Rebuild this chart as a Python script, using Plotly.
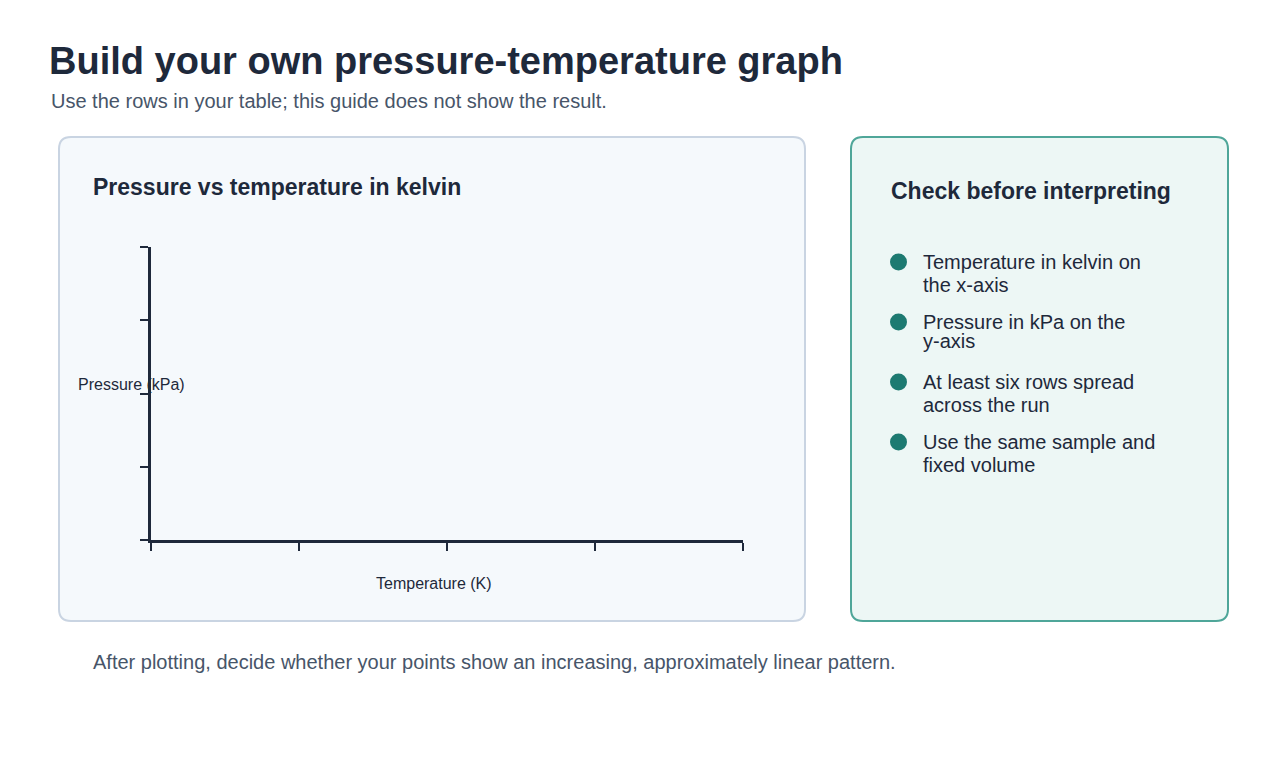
import plotly.graph_objects as go

W, H = 1280, 760
OFF = 8  # page body margin around the plot div

# chart content (the guide deliberately shows no measured points)
temperature_k = []
pressure_kpa = []
x_tick_vals = [0, 1, 2, 3, 4]
y_tick_vals = [0, 1, 2, 3, 4]

title = "Build your own pressure-temperature graph"
subtitle = "Use the rows in your table; this guide does not show the result."
chart_title = "Pressure vs temperature in kelvin"
x_title = "Temperature (K)"
y_title = "Pressure (kPa)"
check_title = "Check before interpreting"
check_items = [
    ["Temperature in kelvin on", "the x-axis"],
    ["Pressure in kPa on the", "y-axis"],
    ["At least six rows spread", "across the run"],
    ["Use the same sample and", "fixed volume"],
]
footer = "After plotting, decide whether your points show an increasing, approximately linear pattern."

FONT = "Liberation Sans, Arial, sans-serif"
DARK = "#1e293b"
GREY = "#475569"
TEAL = "#1d7a71"


def px(x):
    return (x - OFF) / W


def py(y):
    return 1 - (y - OFF) / H


def rounded_rect(x0, y0, x1, y1, r):
    # path in paper units built from pixel positions
    rx, ry = r / W, r / H
    a, b, c, d = px(x0), py(y0), px(x1), py(y1)
    return (f"M {a + rx},{b} L {c - rx},{b} Q {c},{b} {c},{b - ry} "
            f"L {c},{d + ry} Q {c},{d} {c - rx},{d} "
            f"L {a + rx},{d} Q {a},{d} {a},{d + ry} "
            f"L {a},{b - ry} Q {a},{b} {a + rx},{b} Z")


fig = go.Figure()
fig.add_trace(go.Scatter(x=temperature_k, y=pressure_kpa, mode="markers",
                         marker=dict(color=TEAL), showlegend=False))

shapes = [
    dict(type="path", xref="paper", yref="paper", layer="below",
         path=rounded_rect(59, 137, 805, 621, 12),
         fillcolor="#f5f9fc", line=dict(color="#c9d4e2", width=2)),
    dict(type="path", xref="paper", yref="paper", layer="below",
         path=rounded_rect(851, 137, 1228, 621, 12),
         fillcolor="#edf7f5", line=dict(color="#4fa699", width=2)),
]

annotations = [
    dict(text=f"<b>{title}</b>", x=px(47), y=py(61), font=dict(size=38, color=DARK)),
    dict(text=subtitle, x=px(49), y=py(101), font=dict(size=20, color=GREY)),
    dict(text=f"<b>{chart_title}</b>", x=px(91), y=py(187), font=dict(size=23, color=DARK)),
    dict(text=f"<b>{check_title}</b>", x=px(889), y=py(191), font=dict(size=23, color=DARK)),
    dict(text=y_title, x=px(131), y=py(384), xanchor="center", font=dict(size=16, color=DARK)),
    dict(text=x_title, x=px(434), y=py(583), xanchor="center", font=dict(size=16, color=DARK)),
    dict(text=footer, x=px(91), y=py(662), font=dict(size=20, color=GREY)),
]

item_lines = [(262, 285), (322, 341), (382, 405), (442, 465)]
for (first, second), (y1, y2) in zip(check_items, item_lines):
    shapes.append(dict(type="circle", xref="paper", yref="paper",
                       x0=px(890), x1=px(907), y0=py(y1 - 8.5), y1=py(y1 + 8.5),
                       fillcolor=TEAL, line=dict(width=0)))
    annotations.append(dict(text=first, x=px(921), y=py(y1), font=dict(size=20, color=DARK)))
    annotations.append(dict(text=second, x=px(921), y=py(y2), font=dict(size=20, color=DARK)))

for a in annotations:
    a.update(xref="paper", yref="paper", showarrow=False, yanchor="middle")
    a.setdefault("xanchor", "left")

axis_style = dict(showline=True, linecolor=DARK, linewidth=3, ticks="outside",
                  ticklen=8, tickwidth=2, tickcolor=DARK, showticklabels=False,
                  showgrid=False, zeroline=False, fixedrange=True)

fig.update_layout(
    width=W, height=H,
    margin=dict(l=0, r=0, t=0, b=0),
    paper_bgcolor="white", plot_bgcolor="rgba(0,0,0,0)",
    font=dict(family=FONT, color=DARK),
    xaxis=dict(domain=[px(151), px(743)], range=[x_tick_vals[0], x_tick_vals[-1]],
               tickvals=x_tick_vals, **axis_style),
    yaxis=dict(domain=[py(540), py(247)], range=[y_tick_vals[0], y_tick_vals[-1]],
               tickvals=y_tick_vals, **axis_style),
    shapes=shapes,
    annotations=annotations,
    showlegend=False,
)

fig.write_html("out.html", config={"displayModeBar": False})
